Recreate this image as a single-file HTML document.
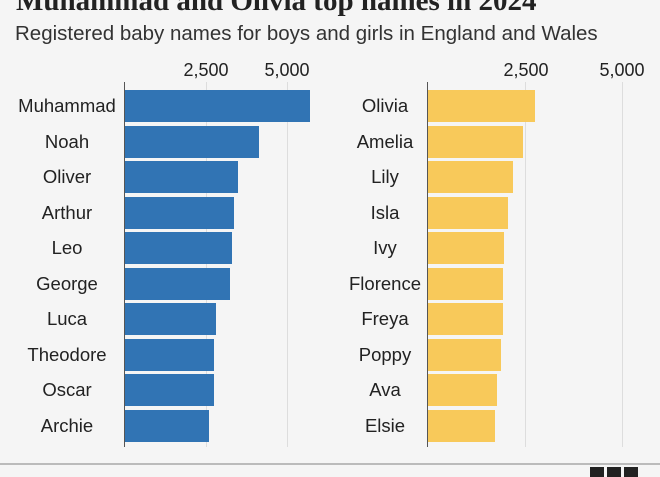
<!DOCTYPE html>
<html><head><style>
body{margin:0;width:660px;height:470px;background:#f5f5f5;overflow:hidden;position:relative;font-family:"Liberation Sans",sans-serif;color:#222}
.a{position:absolute}
.t{left:16px;top:-15px;font-family:"Liberation Serif",serif;font-size:29px;font-weight:bold;color:#222;white-space:nowrap}
.s{left:15px;top:22px;font-size:20.5px;color:#333;white-space:nowrap}
.tk{top:60px;font-size:18px;color:#222;transform:translateX(-50%)}
.g{top:82px;height:365px;width:1px;background:#ddd}
.ax{top:82px;height:365px;width:1px;background:#555}
.lb{font-size:18.5px;width:140px;text-align:center;line-height:32px}
.b{height:32px}
</style></head><body>
<div class="a t">Muhammad and Olivia top names in 2024</div>
<div class="a s">Registered baby names for boys and girls in England and Wales</div>
<div class="a tk" style="left:206px">2,500</div>
<div class="a tk" style="left:287px">5,000</div>
<div class="a tk" style="left:526px">2,500</div>
<div class="a tk" style="left:622px">5,000</div>
<div class="a g" style="left:206px"></div>
<div class="a g" style="left:287px"></div>
<div class="a g" style="left:525px"></div>
<div class="a g" style="left:622px"></div>
<div id="c"></div>
<div class="a ax" style="left:124px"></div>
<div class="a ax" style="left:427px"></div>
<div class="a" style="left:0;top:463px;width:660px;height:2px;background:#bbb"></div>
<div class="a" style="left:590px;top:467px;width:14px;height:10px;background:#222"></div>
<div class="a" style="left:607px;top:467px;width:14px;height:10px;background:#222"></div>
<div class="a" style="left:624px;top:467px;width:14px;height:10px;background:#222"></div>
<script>
var L=[["Muhammad",310],["Noah",259],["Oliver",238],["Arthur",234],["Leo",232],["George",230],["Luca",216],["Theodore",214],["Oscar",214],["Archie",209]];
var R=[["Olivia",535],["Amelia",523],["Lily",513],["Isla",508],["Ivy",504],["Florence",503],["Freya",503],["Poppy",501],["Ava",497],["Elsie",495]];
var h="";
for(var i=0;i<10;i++){var y=90+i*35.5;
h+='<div class="a lb" style="left:-3px;top:'+y+'px">'+L[i][0]+'</div>';
h+='<div class="a b" style="left:125px;top:'+y+'px;width:'+(L[i][1]-125)+'px;background:#3174b4"></div>';
h+='<div class="a lb" style="left:315px;top:'+y+'px">'+R[i][0]+'</div>';
h+='<div class="a b" style="left:428px;top:'+y+'px;width:'+(R[i][1]-428)+'px;background:#f8c95a"></div>';}
document.getElementById("c").innerHTML=h;
</script>
</body></html>
